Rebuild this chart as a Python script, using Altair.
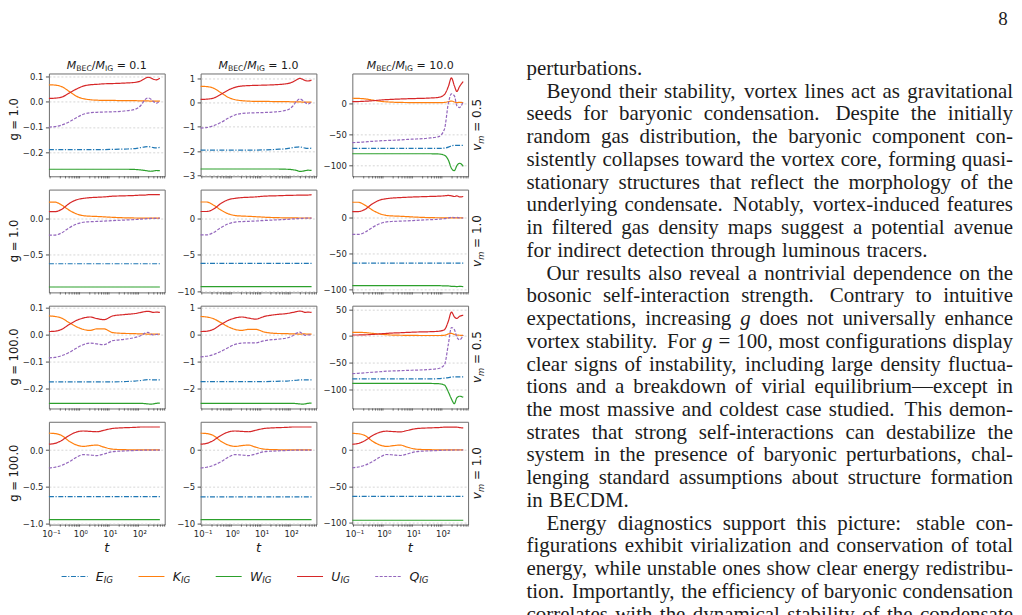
import altair as alt
import pandas as pd

# ---------------- values ----------------
T = [0.082, 0.13, 0.22, 0.4, 0.7, 1.2, 2, 3.5, 6, 12, 30, 70, 110, 150, 190, 240, 290, 360, 480]
SERIES = ["E", "K", "W", "U", "Q"]
SERIES_COLORS = ["#1f77b4", "#ff7f0e", "#2ca02c", "#d62728", "#9467bd"]
SERIES_DASHES = [[5, 1.6, 1.2, 1.6], [1, 0], [1, 0], [1, 0], [3, 1.5]]

M_RATIOS = ["0.1", "1.0", "10.0"]
G_VALUES = ["1.0", "1.0", "100.0", "100.0"]
VM_VALUES = ["0.5", "1.0", "0.5", "1.0"]

X_TICKS = [0.1, 1, 10, 100]
X_TICK_LABELS = ["10\u207b\u00b9", "10\u2070", "10\u00b9", "10\u00b2"]
X_TITLE = "t"
X_DOMAIN = [0.082, 700]

Y_TICKS = [
    [[-0.2, -0.1, 0.0, 0.1], [-3, -2, -1, 0, 1], [-100, -50, 0]],
    [[-0.5, 0.0], [-10, -5, 0], [-100, -50, 0]],
    [[-0.2, -0.1, 0.0, 0.1], [-2, -1, 0, 1], [-100, -50, 0, 50]],
    [[-1.0, -0.5, 0.0], [-10, -5, 0], [-100, -50, 0]],
]
Y_DOMAINS = [
    [[-0.296, 0.112], [-3.04, 1.2], [-118, 48]],
    [[-1.01, 0.39], [-10.17, 3.9], [-104, 39.7]],
    [[-0.274, 0.108], [-2.74, 1.08], [-136, 57]],
    [[-1.018, 0.386], [-10.18, 3.86], [-103, 39]],
]
Y_FORMATS = [".1f", "d", "d"]

# row 1: g = 1.0, v_m = 0.5
E_11 = [-0.190, -0.190, -0.190, -0.190, -0.190, -0.190, -0.190, -0.190, -0.190, -0.189, -0.188, -0.186, -0.182, -0.179, -0.178, -0.180, -0.182, -0.183, -0.181]
K_11 = [0.067, 0.066, 0.060, 0.041, 0.022, 0.012, 0.008, 0.006, 0.005, 0.005, 0.004, 0.004, 0.003, 0.003, 0.003, 0.002, 0.002, 0.002, 0.002]
W_11 = [-0.268, -0.268, -0.268, -0.268, -0.268, -0.268, -0.268, -0.268, -0.268, -0.268, -0.268, -0.269, -0.271, -0.273, -0.275, -0.276, -0.275, -0.273, -0.274]
U_11 = [0.013, 0.014, 0.018, 0.034, 0.050, 0.062, 0.067, 0.069, 0.071, 0.072, 0.074, 0.077, 0.083, 0.092, 0.097, 0.094, 0.089, 0.087, 0.093]
Q_11 = [-0.101, -0.099, -0.093, -0.080, -0.064, -0.050, -0.044, -0.042, -0.041, -0.040, -0.037, -0.030, -0.014, 0.008, 0.015, 0.010, 0.001, -0.006, 0.004]

E_12 = [-1.96, -1.96, -1.96, -1.96, -1.96, -1.96, -1.96, -1.96, -1.96, -1.95, -1.93, -1.90, -1.86, -1.84, -1.83, -1.85, -1.88, -1.89, -1.88]
K_12 = [0.67, 0.66, 0.60, 0.41, 0.22, 0.12, 0.08, 0.06, 0.05, 0.05, 0.04, 0.04, 0.03, 0.03, 0.03, 0.02, 0.02, 0.02, 0.02]
W_12 = [-2.74, -2.74, -2.74, -2.74, -2.74, -2.74, -2.74, -2.74, -2.74, -2.74, -2.74, -2.75, -2.77, -2.80, -2.84, -2.83, -2.81, -2.79, -2.80]
U_12 = [0.13, 0.14, 0.18, 0.34, 0.51, 0.63, 0.68, 0.70, 0.71, 0.72, 0.74, 0.78, 0.85, 0.94, 1.00, 0.96, 0.91, 0.89, 0.93]
Q_12 = [-1.05, -1.03, -0.96, -0.82, -0.65, -0.51, -0.45, -0.43, -0.42, -0.41, -0.38, -0.31, -0.15, 0.06, 0.15, 0.09, 0.00, -0.06, 0.03]

E_13 = [-73, -73, -73, -73, -73, -73, -73, -73, -73, -73, -73, -73, -72.5, -71, -69, -68, -68, -68, -68]
K_13 = [8.0, 7.8, 7.0, 5.0, 3.2, 2.2, 1.6, 1.3, 1.1, 1.0, 0.9, 0.9, 1.2, 2.5, 3.5, 2.0, 1.0, 1.5, 1.0]
W_13 = [-81.6, -81.6, -81.6, -81.6, -81.6, -81.6, -81.6, -81.6, -81.6, -81.6, -81.6, -82, -84, -92, -105, -109, -101, -97, -102]
U_13 = [2.5, 2.7, 3.2, 4.0, 5.0, 5.8, 6.3, 6.8, 7.2, 7.6, 8.2, 9.5, 14, 27, 41, 28, 19, 27, 35]
Q_13 = [-63.6, -63.3, -62.5, -61.5, -60.8, -60.2, -59.8, -59.2, -58.5, -57.8, -56.5, -54, -42, 0, 15, 12, -4, -7, 3]

# row 2: g = 1.0, v_m = 1.0
E_21 = [-0.62, -0.62, -0.62, -0.62, -0.62, -0.62, -0.62, -0.62, -0.62, -0.62, -0.62, -0.62, -0.62, -0.62, -0.62, -0.62, -0.62, -0.62, -0.62]
K_21 = [0.22, 0.22, 0.18, 0.11, 0.06, 0.035, 0.028, 0.024, 0.019, 0.012, 0.006, 0.003, 0.002, 0.002, 0.001, 0.001, 0.001, 0.001, 0.001]
W_21 = [-0.937, -0.937, -0.937, -0.937, -0.937, -0.937, -0.937, -0.937, -0.937, -0.937, -0.937, -0.937, -0.937, -0.937, -0.937, -0.937, -0.937, -0.937, -0.937]
U_21 = [0.09, 0.09, 0.12, 0.20, 0.25, 0.27, 0.28, 0.285, 0.29, 0.30, 0.305, 0.31, 0.315, 0.315, 0.32, 0.32, 0.32, 0.32, 0.32]
Q_21 = [-0.23, -0.23, -0.20, -0.13, -0.08, -0.055, -0.048, -0.044, -0.040, -0.033, -0.025, -0.018, -0.012, -0.008, -0.005, -0.003, -0.002, -0.001, 0.0]

E_22 = [-6.2, -6.2, -6.2, -6.2, -6.2, -6.2, -6.2, -6.2, -6.2, -6.2, -6.2, -6.2, -6.2, -6.2, -6.2, -6.2, -6.2, -6.2, -6.2]
K_22 = [2.2, 2.2, 1.8, 1.1, 0.6, 0.35, 0.28, 0.24, 0.19, 0.12, 0.06, 0.03, 0.02, 0.02, 0.01, 0.01, 0.01, 0.01, 0.01]
W_22 = [-9.37, -9.37, -9.37, -9.37, -9.37, -9.37, -9.37, -9.37, -9.37, -9.37, -9.37, -9.37, -9.37, -9.37, -9.37, -9.37, -9.37, -9.37, -9.37]
U_22 = [0.9, 0.9, 1.2, 2.0, 2.5, 2.7, 2.8, 2.85, 2.9, 3.0, 3.05, 3.1, 3.12, 3.13, 3.15, 3.15, 3.15, 3.15, 3.2]
Q_22 = [-2.3, -2.3, -2.0, -1.3, -0.8, -0.55, -0.48, -0.44, -0.40, -0.33, -0.25, -0.18, -0.12, -0.08, -0.05, -0.03, -0.02, -0.01, 0.0]

E_23 = [-63, -63, -63, -63, -63, -63, -63, -63, -63, -63, -63, -63, -63, -63, -63, -63, -63, -63, -63]
K_23 = [22, 22, 18, 11, 6, 3.5, 2.8, 2.4, 1.9, 1.2, 0.6, 0.3, 0.2, 0.2, 0.1, 0.1, 0.1, 0.1, 0.1]
W_23 = [-94.5, -94.5, -94.5, -94.5, -94.5, -94.5, -94.5, -94.5, -94.5, -94.5, -94.5, -94.5, -95, -95, -95.5, -95.5, -96, -95.5, -96]
U_23 = [9, 9, 12, 20, 25, 27, 28, 28.5, 29, 29.5, 30, 30.5, 31, 31.5, 31, 30, 31, 29.5, 30]
Q_23 = [-23, -23, -20, -13, -8, -5.5, -4.8, -4.4, -4.0, -3.3, -2.5, -1.8, -1.0, 0.0, 1.0, 0.5, 0.8, 0.0, 0.0]

# row 3: g = 100.0, v_m = 0.5
E_31 = [-0.175, -0.175, -0.175, -0.175, -0.175, -0.175, -0.175, -0.175, -0.175, -0.175, -0.174, -0.172, -0.170, -0.168, -0.167, -0.167, -0.168, -0.168, -0.168]
K_31 = [0.070, 0.068, 0.062, 0.045, 0.030, 0.020, 0.016, 0.022, 0.022, 0.008, 0.005, 0.004, 0.003, 0.003, 0.002, 0.002, 0.002, 0.002, 0.002]
W_31 = [-0.255, -0.255, -0.255, -0.255, -0.255, -0.255, -0.255, -0.255, -0.255, -0.255, -0.255, -0.255, -0.255, -0.256, -0.257, -0.258, -0.257, -0.255, -0.254]
U_31 = [0.012, 0.013, 0.020, 0.038, 0.053, 0.062, 0.066, 0.060, 0.056, 0.070, 0.075, 0.079, 0.083, 0.086, 0.087, 0.085, 0.083, 0.084, 0.083]
Q_31 = [-0.086, -0.084, -0.078, -0.066, -0.050, -0.037, -0.031, -0.034, -0.037, -0.022, -0.017, -0.010, -0.003, 0.006, 0.009, 0.002, -0.001, 0.001, 0.002]

E_32 = [-1.74, -1.74, -1.74, -1.74, -1.74, -1.74, -1.74, -1.74, -1.74, -1.74, -1.73, -1.72, -1.70, -1.69, -1.68, -1.68, -1.68, -1.68, -1.68]
K_32 = [0.68, 0.66, 0.60, 0.45, 0.30, 0.20, 0.16, 0.20, 0.20, 0.10, 0.05, 0.04, 0.03, 0.03, 0.02, 0.03, 0.03, 0.02, 0.02]
W_32 = [-2.55, -2.55, -2.55, -2.55, -2.55, -2.55, -2.55, -2.55, -2.55, -2.55, -2.55, -2.55, -2.55, -2.56, -2.57, -2.58, -2.57, -2.55, -2.54]
U_32 = [0.12, 0.13, 0.20, 0.38, 0.53, 0.62, 0.66, 0.62, 0.58, 0.68, 0.75, 0.79, 0.83, 0.86, 0.88, 0.86, 0.83, 0.84, 0.83]
Q_32 = [-0.82, -0.80, -0.74, -0.62, -0.48, -0.36, -0.31, -0.30, -0.30, -0.22, -0.17, -0.12, -0.04, 0.06, 0.10, 0.03, -0.02, -0.01, 0.00]

E_33 = [-80.5, -80.5, -80.5, -80.5, -80.5, -80.5, -80.5, -80.5, -80.5, -80.5, -80.5, -80, -79, -78, -77, -76.5, -76.5, -76.5, -76.5]
K_33 = [7, 7, 6.5, 5, 3.5, 2.5, 1.8, 1.5, 1.3, 1.1, 1.0, 1.0, 1.5, 4, 5, 3, 2, 1.5, 1]
W_33 = [-89, -89, -89, -89, -89, -89, -89, -89, -89, -89, -89, -89.5, -92, -105, -118, -127, -116, -113, -115]
U_33 = [1.9, 2.0, 2.3, 3.0, 4.0, 5.0, 5.7, 6.2, 6.8, 7.5, 8.0, 9.0, 12, 28, 45, 36, 33, 37, 39]
Q_33 = [-70.6, -70, -69, -68, -67, -66, -65.5, -65, -64.5, -64, -63, -61, -54, -15, 16, 12, -2, -7, 2]

# row 4: g = 100.0, v_m = 1.0
E_41 = [-0.636, -0.636, -0.636, -0.636, -0.636, -0.636, -0.636, -0.636, -0.636, -0.636, -0.636, -0.636, -0.636, -0.636, -0.636, -0.636, -0.636, -0.636, -0.636]
K_41 = [0.23, 0.225, 0.20, 0.12, 0.07, 0.05, 0.06, 0.068, 0.04, 0.012, 0.005, 0.003, 0.002, 0.002, 0.001, 0.001, 0.001, 0.001, 0.001]
W_41 = [-0.95, -0.95, -0.95, -0.95, -0.95, -0.95, -0.95, -0.95, -0.95, -0.95, -0.95, -0.95, -0.95, -0.95, -0.95, -0.95, -0.95, -0.95, -0.95]
U_41 = [0.08, 0.09, 0.13, 0.20, 0.245, 0.26, 0.255, 0.25, 0.27, 0.295, 0.305, 0.31, 0.315, 0.315, 0.315, 0.315, 0.315, 0.315, 0.315]
Q_41 = [-0.245, -0.235, -0.21, -0.16, -0.10, -0.062, -0.068, -0.076, -0.055, -0.022, -0.012, -0.006, -0.003, -0.002, -0.001, 0.0, 0.0, 0.0, 0.0]

E_42 = [-6.4, -6.4, -6.4, -6.4, -6.4, -6.4, -6.4, -6.4, -6.4, -6.4, -6.4, -6.4, -6.4, -6.4, -6.4, -6.4, -6.4, -6.4, -6.4]
K_42 = [2.3, 2.25, 2.0, 1.2, 0.7, 0.5, 0.6, 0.68, 0.4, 0.12, 0.05, 0.03, 0.02, 0.02, 0.01, 0.01, 0.01, 0.01, 0.01]
W_42 = [-9.5, -9.5, -9.5, -9.5, -9.5, -9.5, -9.5, -9.5, -9.5, -9.5, -9.5, -9.5, -9.5, -9.5, -9.5, -9.5, -9.5, -9.5, -9.5]
U_42 = [0.8, 0.9, 1.3, 2.0, 2.45, 2.6, 2.55, 2.5, 2.7, 2.95, 3.05, 3.1, 3.15, 3.15, 3.15, 3.15, 3.15, 3.15, 3.15]
Q_42 = [-2.45, -2.35, -2.1, -1.6, -1.0, -0.62, -0.68, -0.76, -0.55, -0.22, -0.12, -0.06, -0.03, -0.02, -0.01, 0.0, 0.0, 0.0, 0.0]

E_43 = [-64, -64, -64, -64, -64, -64, -64, -64, -64, -64, -64, -64, -64, -64, -64, -64, -64, -64, -64]
K_43 = [23, 22.5, 20, 12, 7, 5, 6, 6.8, 4, 1.2, 0.5, 0.3, 0.2, 0.2, 0.1, 0.1, 0.1, 0.1, 0.1]
W_43 = [-97, -97, -97, -97, -97, -97, -97, -97, -97, -97, -97, -97, -97, -97, -97, -97, -97, -97, -97]
U_43 = [8, 9, 13, 20, 24.5, 26, 25.5, 25, 27, 29.5, 30.5, 31, 31.5, 31.5, 31.5, 31.5, 31.5, 31, 30.5]
Q_43 = [-24.5, -23.5, -21, -16, -10, -6.2, -6.8, -7.6, -5.5, -2.2, -1.2, -0.6, -0.3, -0.2, -0.1, 0.0, 0.0, 0.0, 0.0]

TEXT_LINES = [
    "perturbations.",
    "Beyond their stability, vortex lines act as gravitational",
    "seeds for baryonic condensation.  Despite the initially",
    "random gas distribution, the baryonic component con-",
    "sistently collapses toward the vortex core, forming quasi-",
    "stationary structures that reflect the morphology of the",
    "underlying condensate. Notably, vortex-induced features",
    "in filtered gas density maps suggest a potential avenue",
    "for indirect detection through luminous tracers.",
    "Our results also reveal a nontrivial dependence on the",
    "bosonic self-interaction strength.  Contrary to intuitive",
    "expectations, increasing g does not universally enhance",
    "vortex stability. For g = 100, most configurations display",
    "clear signs of instability, including large density fluctua-",
    "tions and a breakdown of virial equilibrium\u2014except in",
    "the most massive and coldest case studied. This demon-",
    "strates that strong self-interactions can destabilize the",
    "system in the presence of baryonic perturbations, chal-",
    "lenging standard assumptions about structure formation",
    "in BECDM.",
    "Energy diagnostics support this picture: stable con-",
    "figurations exhibit virialization and conservation of total",
    "energy, while unstable ones show clear energy redistribu-",
    "tion. Importantly, the efficiency of baryonic condensation",
    "correlates with the dynamical stability of the condensate",
]
INDENT_LINES = {1, 9, 20}
RAGGED_LINES = {0, 8, 19}
PAGE_NUMBER = "8"
LEGEND_LETTERS = ["E", "K", "W", "U", "Q"]

PANELS = [
    [dict(E=E_11, K=K_11, W=W_11, U=U_11, Q=Q_11), dict(E=E_12, K=K_12, W=W_12, U=U_12, Q=Q_12), dict(E=E_13, K=K_13, W=W_13, U=U_13, Q=Q_13)],
    [dict(E=E_21, K=K_21, W=W_21, U=U_21, Q=Q_21), dict(E=E_22, K=K_22, W=W_22, U=U_22, Q=Q_22), dict(E=E_23, K=K_23, W=W_23, U=U_23, Q=Q_23)],
    [dict(E=E_31, K=K_31, W=W_31, U=U_31, Q=Q_31), dict(E=E_32, K=K_32, W=W_32, U=U_32, Q=Q_32), dict(E=E_33, K=K_33, W=W_33, U=U_33, Q=Q_33)],
    [dict(E=E_41, K=K_41, W=W_41, U=U_41, Q=Q_41), dict(E=E_42, K=K_42, W=W_42, U=U_42, Q=Q_42), dict(E=E_43, K=K_43, W=W_43, U=U_43, Q=Q_43)],
]

# ---------------- layout & style ----------------
PW, PH = 116, 103
COL_GAP, ROW_GAP = 36, 13.33
ORIGIN_X, ORIGIN_Y = 48, 72          # page position of the top-left panel
FIG_FONT = "DejaVu Sans"
PAGE_FONT = "Liberation Serif"
FIG_INK = "#1a1a1a"
PAGE_INK = "#1c1c1c"

MINOR_TICKS = [k * 10.0 ** e for e in range(-2, 3) for k in range(2, 10)
               if X_DOMAIN[0] <= k * 10.0 ** e <= X_DOMAIN[1]]

color_scale = alt.Scale(domain=SERIES, range=SERIES_COLORS)
dash_scale = alt.Scale(domain=SERIES, range=SERIES_DASHES)

DV = {' ': 318, '.': 318, '=': 838, '/': 337, 'M': 863, 'B': 686, 'E': 632, 'C': 698,
      'I': 295, 'G': 775, 'K': 656, 'W': 989, 'U': 732, 'Q': 787, 'v': 592, 'm': 974, 'g': 635}
for _d in "0123456789":
    DV[_d] = 636

TM = {' ': 250, ',': 250, '.': 250, ':': 278, '-': 333, '=': 564, '\u2014': 1000,
      'A': 722, 'B': 667, 'C': 667, 'D': 722, 'E': 611, 'F': 556, 'G': 722, 'H': 722, 'I': 333,
      'J': 389, 'K': 722, 'L': 611, 'M': 889, 'N': 722, 'O': 722, 'P': 556, 'Q': 722, 'R': 667,
      'S': 556, 'T': 611, 'U': 722, 'V': 722, 'W': 944, 'X': 722, 'Y': 722, 'Z': 611,
      'a': 444, 'b': 500, 'c': 444, 'd': 500, 'e': 444, 'f': 333, 'g': 500, 'h': 500, 'i': 278,
      'j': 278, 'k': 500, 'l': 278, 'm': 778, 'n': 500, 'o': 500, 'p': 500, 'q': 500, 'r': 333,
      's': 389, 't': 278, 'u': 500, 'v': 500, 'w': 722, 'x': 500, 'y': 500, 'z': 444}
for _d in "0123456789":
    TM[_d] = 500


def dv_w(s, size):
    return sum(DV.get(ch, 600) for ch in s) * size / 1000.0


def tm_w(s):
    return sum(TM.get(ch, 500) for ch in s) / 1000.0


def origin(r, c):
    return ORIGIN_X + c * (PW + COL_GAP), ORIGIN_Y + r * (PH + ROW_GAP)


def piece(px, py, txt, fs, font, italic, align, angle, col=FIG_INK):
    return dict(px=px, py=py, txt=txt, fs=fs, font=font, italic=bool(italic),
                align=align, angle=float(angle), col=col)


def text_layers(pieces):
    out = []
    if not pieces:
        return out
    df = pd.DataFrame(pieces)
    for key, g in df.groupby(["font", "italic", "align", "angle"], sort=False):
        font, italic, align, angle = key
        data = g[["px", "py", "txt", "fs", "col"]].reset_index(drop=True)
        out.append(
            alt.Chart(data).mark_text(
                font=str(font), fontStyle="italic" if bool(italic) else "normal",
                align=str(align), baseline="alphabetic", angle=float(angle)
            ).encode(
                x=alt.X("px:Q", scale=None, axis=None),
                y=alt.Y("py:Q", scale=None, axis=None),
                text=alt.Text("txt:N"),
                size=alt.Size("fs:Q", scale=None, legend=None),
                color=alt.Color("col:N", scale=None, legend=None),
            )
        )
    return out


def title_pieces(c):
    F, S = 11.0, 7.7
    parts = [("M", F, True, 0.0), ("BEC", S, False, 2.2), ("/", F, False, 0.0),
             ("M", F, True, 0.0), ("IG", S, False, 2.2), (" ", F, False, 0.0),
             ("= " + M_RATIOS[c], F, False, 0.0)]
    total = sum(dv_w(t, s) for t, s, _, _ in parts)
    x = PW / 2 - total / 2
    out = []
    for t, s, it, dy in parts:
        if t.strip():
            out.append(piece(x, -4.7 + dy, t, s, FIG_FONT, it, "left", 0))
        x += dv_w(t, s)
    return out


def vm_pieces(r):
    F, S = 12.0, 8.4
    X = PW + 13
    parts = [("v", F, True, 0.0), ("m", S, True, 2.5), (" ", F, False, 0.0),
             ("= " + VM_VALUES[r], F, False, 0.0)]
    total = sum(dv_w(t, s) for t, s, _, _ in parts)
    start = PH / 2 + total / 2
    d = 0.0
    out = []
    for t, s, it, sh in parts:
        if t.strip():
            out.append(piece(X + sh, start - d, t, s, FIG_FONT, it, "left", 270))
        d += dv_w(t, s)
    return out


def paragraph_pieces(ox, oy):
    left0, right, indent = 526.5, 1014.0, 20.0
    base0, leading = 73.5, 22.78
    ratios = []
    for i, line in enumerate(TEXT_LINES):
        if i in RAGGED_LINES:
            continue
        ws = line.split()
        left = left0 + (indent if i in INDENT_LINES else 0)
        ratios.append((right - left) / (sum(tm_w(w) for w in ws) + 0.2 * (len(ws) - 1)))
    fs = min(min(ratios), 21.0)
    out = []
    for i, line in enumerate(TEXT_LINES):
        ws = line.split()
        left = left0 + (indent if i in INDENT_LINES else 0)
        base = base0 + i * leading
        widths = [tm_w(w) * fs for w in ws]
        if i in RAGGED_LINES:
            x = left
            for w, wd in zip(ws, widths):
                out.append(piece(x - ox, base - oy, w, fs, PAGE_FONT, w == "g", "left", 0, PAGE_INK))
                x += wd + 0.3 * fs
        else:
            weights = [1.4 if ws[k].endswith((".", ":")) else 1.0 for k in range(len(ws) - 1)]
            unit = ((right - left) - sum(widths)) / sum(weights)
            x = left
            for k, w in enumerate(ws):
                if k == len(ws) - 1:
                    out.append(piece(right - ox, base - oy, w, fs, PAGE_FONT, False, "right", 0, PAGE_INK))
                else:
                    out.append(piece(x - ox, base - oy, w, fs, PAGE_FONT, w == "g", "left", 0, PAGE_INK))
                    x += widths[k] + weights[k] * unit
    out.append(piece(1004 - ox, 23 - oy, PAGE_NUMBER, 19, PAGE_FONT, False, "center", 0, PAGE_INK))
    return out


def legend_parts(ox, oy):
    x0, y0, handle, text_gap, col_gap = 60.7, 576.0, 26.0, 34.3, 59.8
    F, S = 12.5, 8.75
    rules, texts = [], []
    x = x0
    for s, letter in zip(SERIES, LEGEND_LETTERS):
        rules.append(dict(px=x - ox, px2=x + handle - ox, py=y0 - oy, s=s))
        tx = x + text_gap
        texts.append(piece(tx - ox, y0 + 4.5 - oy, letter, F, FIG_FONT, True, "left", 0))
        texts.append(piece(tx + dv_w(letter, F) - ox, y0 + 7.0 - oy, "IG", S, FIG_FONT, True, "left", 0))
        x += col_gap + dv_w(letter, F) + dv_w("IG", S)
    rule_layer = alt.Chart(pd.DataFrame(rules)).mark_rule(strokeWidth=1.2).encode(
        x=alt.X("px:Q", scale=None, axis=None),
        x2="px2:Q",
        y=alt.Y("py:Q", scale=None, axis=None),
        color=alt.Color("s:N", scale=color_scale, legend=None),
        strokeDash=alt.StrokeDash("s:N", scale=dash_scale, legend=None),
    )
    return rule_layer, texts


def build_panel(r, c):
    vals = PANELS[r][c]
    rows = [{"t": t, "s": s, "v": v} for s in SERIES for t, v in zip(T, vals[s])]
    df = pd.DataFrame(rows)
    xs = alt.Scale(type="log", domain=X_DOMAIN, nice=False)
    ys = alt.Scale(domain=Y_DOMAINS[r][c], nice=False, zero=False)
    xax = alt.Axis(values=X_TICKS, grid=True, labels=False, title=None)
    yax = alt.Axis(values=Y_TICKS[r][c], format=Y_FORMATS[c], grid=True, title=None,
                   labelFlush=False, labelOverlap=False)
    lines = alt.Chart(df).mark_line(strokeWidth=1.2, interpolate="monotone").encode(
        x=alt.X("t:Q", scale=xs, axis=xax),
        y=alt.Y("v:Q", scale=ys, axis=yax),
        color=alt.Color("s:N", scale=color_scale, legend=None),
        strokeDash=alt.StrokeDash("s:N", scale=dash_scale, legend=None),
    )
    minor = alt.Chart(pd.DataFrame({"t": MINOR_TICKS})).mark_rule(
        color="#262626", strokeWidth=0.6
    ).encode(x=alt.X("t:Q", scale=xs, axis=None), y=alt.value(PH), y2=alt.value(PH + 2.2))

    layers = [lines, minor]
    ox, oy = origin(r, c)
    pieces = []
    if r == 3:
        tick_labels = alt.Chart(pd.DataFrame({"t": X_TICKS, "lab": X_TICK_LABELS})).mark_text(
            font=FIG_FONT, fontSize=8.5, color="#262626", align="center", baseline="alphabetic"
        ).encode(x=alt.X("t:Q", scale=xs, axis=None), y=alt.value(PH + 12), text="lab:N")
        layers.append(tick_labels)
        pieces.append(piece(PW / 2, PH + 27, X_TITLE, 13, FIG_FONT, True, "center", 0))
    if r == 0:
        pieces += title_pieces(c)
    if c == 0:
        cy = 46 if r == 0 else PH / 2
        pieces.append(piece(-31, cy, "g = " + G_VALUES[r], 11.5, FIG_FONT, False, "center", 270))
    if c == 2:
        pieces += vm_pieces(r)
    if r == 0 and c == 2:
        pieces += paragraph_pieces(ox, oy)
    if r == 0 and c == 0:
        anchor = alt.Chart(pd.DataFrame({"px": [-40], "px2": [-39], "py": [-64]})).mark_rule(
            opacity=0
        ).encode(x=alt.X("px:Q", scale=None, axis=None), x2="px2:Q",
                 y=alt.Y("py:Q", scale=None, axis=None))
        layers.append(anchor)
    if r == 3 and c == 0:
        rule_layer, leg_texts = legend_parts(ox, oy)
        layers.append(rule_layer)
        pieces += leg_texts
    layers += text_layers(pieces)
    return alt.layer(*layers).properties(width=PW, height=PH)


charts = [build_panel(r, c) for r in range(4) for c in range(3)]

chart = alt.concat(
    *charts, columns=3, spacing={"row": ROW_GAP, "column": COL_GAP}, bounds="flush"
).properties(padding=0).configure_view(
    stroke="#6e6e6e", strokeWidth=1
).configure_axis(
    labelFont=FIG_FONT, labelFontSize=8.5, labelColor="#262626", labelPadding=2.5,
    tickColor="#262626", tickWidth=0.8, tickSize=3.5, domain=False,
    gridColor="#cccccc", gridDash=[2, 2], gridWidth=0.8,
    titleFont=FIG_FONT, titleFontWeight="normal", titleColor="#111111",
)

chart.save("out.html", embed_options={"renderer": "svg", "actions": False})
